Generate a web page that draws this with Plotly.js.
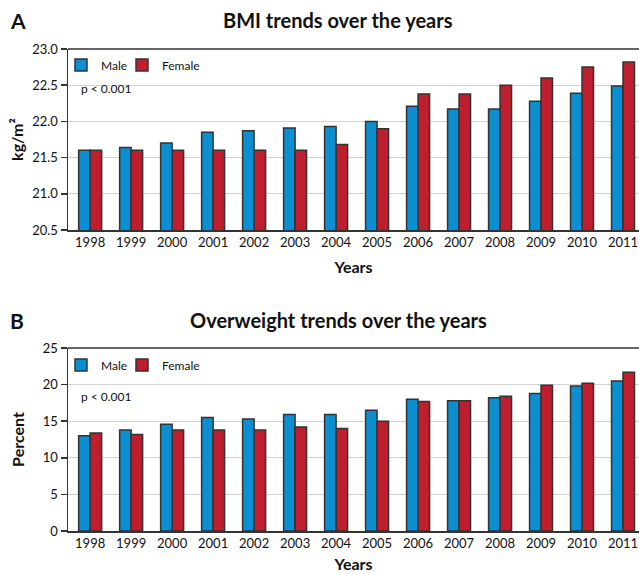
<!DOCTYPE html>
<html>
<head>
<meta charset="utf-8">
<script src="https://cdn.plot.ly/plotly-3.0.1.min.js"></script>
<style>html,body{margin:0;padding:0;background:#fff;}#chart{width:639px;height:575px;}</style>
</head>
<body>
<div id="chart"></div>
<script>
const years = ['1998','1999','2000','2001','2002','2003','2004','2005','2006','2007','2008','2009','2010','2011'];
const bmiMale   = [21.60, 21.64, 21.70, 21.85, 21.87, 21.91, 21.93, 22.00, 22.21, 22.17, 22.17, 22.28, 22.39, 22.49];
const bmiFemale = [21.60, 21.60, 21.60, 21.60, 21.60, 21.60, 21.68, 21.90, 22.38, 22.38, 22.50, 22.60, 22.75, 22.82];
const owMale    = [13.0, 13.8, 14.6, 15.5, 15.3, 15.9, 15.9, 16.5, 18.0, 17.8, 18.2, 18.8, 19.8, 20.5];
const owFemale  = [13.4, 13.2, 13.8, 13.8, 13.8, 14.2, 14.0, 15.0, 17.7, 17.8, 18.4, 19.9, 20.2, 21.7];
const bmiTicks = [20.5, 21.0, 21.5, 22.0, 22.5, 23.0];
const owTicks = [0, 5, 10, 15, 20, 25];

const BLUE = '#0b8fd1', RED = '#be1e2d', EDGE = '#333333';
const FONT = 'Lato, "Open Sans", sans-serif';

function bar(name, x, y, color, xa, ya, legend) {
  return {type:'bar', name:name, x:x, y:y, xaxis:xa, yaxis:ya, legend:legend, showlegend:true,
    marker:{color:color, line:{color:EDGE, width:1.5}}, hoverinfo:'skip'};
}
const data = [
  bar('Male', years, bmiMale, BLUE, 'x', 'y', 'legend'),
  bar('Female', years, bmiFemale, RED, 'x', 'y', 'legend2'),
  bar('Male', years, owMale, BLUE, 'x2', 'y2', 'legend3'),
  bar('Female', years, owFemale, RED, 'x2', 'y2', 'legend4')
];

const H = 575, W = 639, L = 68, PW = W - L;
const py = p => 1 - p / H;
const px = p => (p - L) / PW;

const titleFont = {family:FONT, size:16, color:'#111', weight:'bold'};
const xcommon = {type:'category', range:[-0.54, 13.39], showline:true, linecolor:EDGE, linewidth:1.5,
  ticks:'', showgrid:false, tickfont:{family:FONT, size:13, color:'#111'}, fixedrange:true};
const ycommon = {showline:true, linecolor:EDGE, linewidth:1.5, ticks:'outside', ticklen:6, tickcolor:EDGE, tickwidth:1.5,
  showgrid:true, gridcolor:'#d2d2d2', gridwidth:1, zeroline:false, tickfont:{family:FONT, size:13, color:'#111'}, fixedrange:true};
const legendCommon = {orientation:'h', xanchor:'left', yanchor:'middle', bgcolor:'rgba(0,0,0,0)',
  font:{family:FONT, size:12, color:'#111'}, itemwidth:30};

const layout = {
  width:W, height:H, margin:{l:L, r:0, t:0, b:0}, paper_bgcolor:'#fff', plot_bgcolor:'#fff',
  barmode:'group', bargap:0.44, bargroupgap:0,
  font:{family:FONT, color:'#111'},
  xaxis: Object.assign({}, xcommon, {domain:[0,1], anchor:'y', title:{text:'Years', font:titleFont, standoff:12}}),
  yaxis: Object.assign({}, ycommon, {domain:[py(230), py(49)], anchor:'x', range:[20.5, 23.0], tickvals:bmiTicks, ticktext:bmiTicks.map(v=>v.toFixed(1)),
    title:{text:'kg/m²', font:titleFont, standoff:4}}),
  xaxis2: Object.assign({}, xcommon, {domain:[0,1], anchor:'y2', title:{text:'Years', font:titleFont, standoff:8}}),
  yaxis2: Object.assign({}, ycommon, {domain:[py(531), py(348)], anchor:'x2', range:[0, 25], tickvals:owTicks,
    title:{text:'Percent', font:titleFont, standoff:14}}),
  legend:  Object.assign({}, legendCommon, {x:px(61), y:py(65)}),
  legend2: Object.assign({}, legendCommon, {x:px(122), y:py(65)}),
  legend3: Object.assign({}, legendCommon, {x:px(61), y:py(365)}),
  legend4: Object.assign({}, legendCommon, {x:px(122), y:py(365)}),
  shapes:[
    {type:'line', xref:'x domain', yref:'y domain', x0:0, x1:1, y0:1, y1:1, line:{color:EDGE, width:1.5}},
    {type:'line', xref:'x2 domain', yref:'y2 domain', x0:0, x1:1, y0:1, y1:1, line:{color:EDGE, width:1.5}}
  ],
  annotations:[
    {text:'<b>A</b>', xref:'paper', yref:'paper', x:px(8), y:py(20), xanchor:'left', yanchor:'middle', showarrow:false,
      font:{family:FONT, size:21, color:'#111'}},
    {text:'<b>B</b>', xref:'paper', yref:'paper', x:px(8), y:py(320), xanchor:'left', yanchor:'middle', showarrow:false,
      font:{family:FONT, size:21, color:'#111'}},
    {text:'<b>BMI trends over the years</b>', xref:'paper', yref:'paper', x:px(338), y:py(20), xanchor:'center', yanchor:'middle', showarrow:false,
      font:{family:FONT, size:20, color:'#111'}},
    {text:'<b>Overweight trends over the years</b>', xref:'paper', yref:'paper', x:px(338), y:py(320), xanchor:'center', yanchor:'middle', showarrow:false,
      font:{family:FONT, size:20, color:'#111'}},
    {text:'p < 0.001', xref:'paper', yref:'paper', x:px(79), y:py(88), xanchor:'left', yanchor:'middle', showarrow:false,
      font:{family:FONT, size:12, color:'#111'}},
    {text:'p < 0.001', xref:'paper', yref:'paper', x:px(79), y:py(396), xanchor:'left', yanchor:'middle', showarrow:false,
      font:{family:FONT, size:12, color:'#111'}}
  ]
};
Plotly.newPlot('chart', data, layout, {displayModeBar:false, staticPlot:true});
</script>
</body>
</html>
